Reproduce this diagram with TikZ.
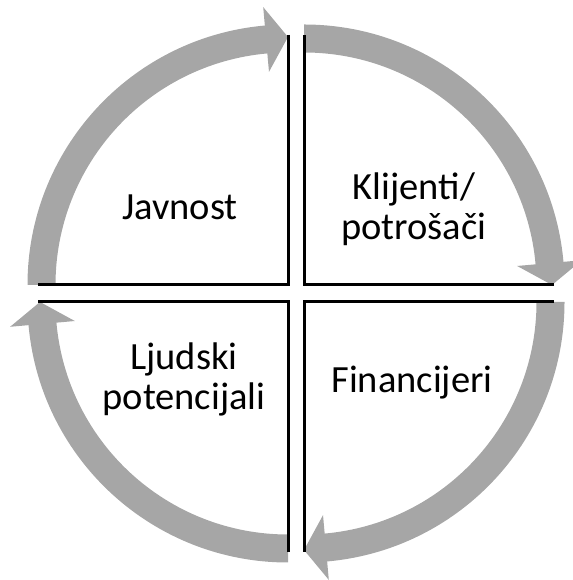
\documentclass[tikz,border=0pt]{standalone}
\usepackage{fontspec}
\setmainfont{Carlito}
\usetikzlibrary{positioning}

\definecolor{bandgray}{RGB}{166,166,166}

\begin{document}
\begin{tikzpicture}[x=1pt, y=1pt,
    band/.style = {fill=bandgray},
    edge/.style = {draw, line width=3pt, line join=miter},
    main/.style = {align=center, font=\fontsize{38.5}{40}\selectfont}]
    \useasboundingbox (0,0) rectangle (572,580);
    \coordinate (tl) at (288,295);
    \coordinate (tr) at (304,295);
    \coordinate (br) at (304,278);
    \coordinate (bl) at (288,278);
    % each quadrant: gray arc arrow and its two inner edges
    \foreach \c/\a in {tl/0, tr/-90, br/-180, bl/-270} {
        \begin{scope}[shift={(\c)}, rotate=\a]
            \fill[band] (180:260.5pt) arc[start angle=180, end angle=95.1, radius=260.5pt]
                -- (95.1:279pt) -- (90:248pt) -- (95.1:214pt) -- (95.1:232.5pt)
                arc[start angle=95.1, end angle=180, radius=232.5pt] -- cycle;
            \draw[edge] (0,250) -- (0,0) -- (-250,0);
        \end{scope}
    }
    \node[main] (javnost) at (180,373) {Javnost};
    \node[main] (klijenti) at (414,371) {Klijenti/\\potrošači};
    \node[main] (ljudski) at (184,201) {Ljudski\\potencijali};
    \node[main] (financijeri) at (412,197) {Financijeri};
\end{tikzpicture}
\end{document}
